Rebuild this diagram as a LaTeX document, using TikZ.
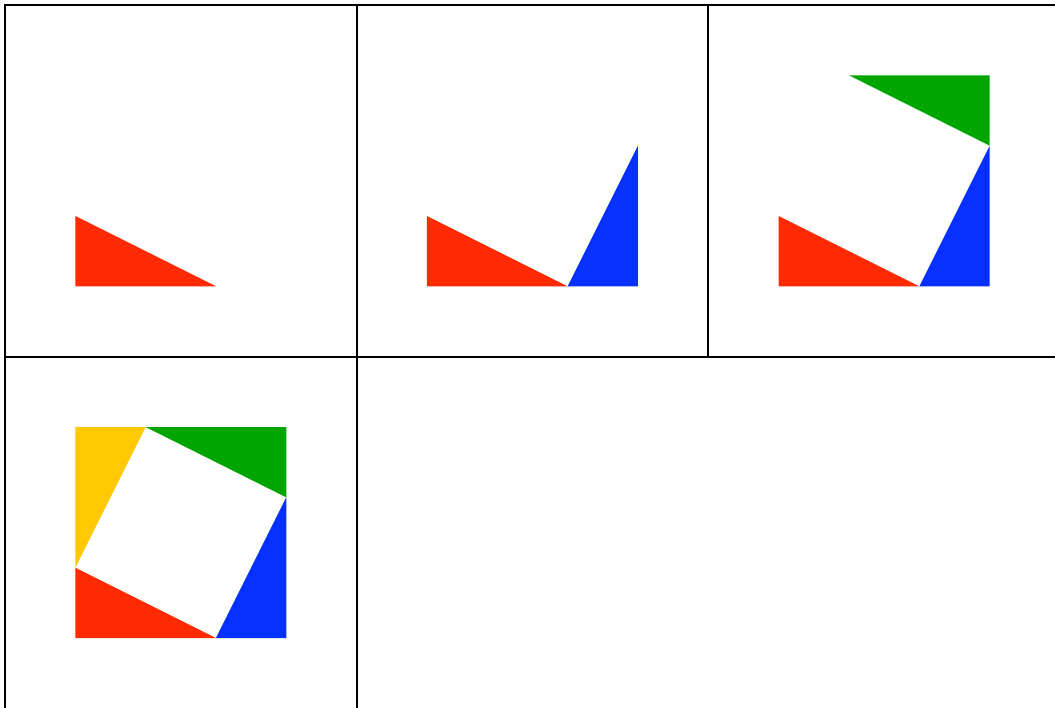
\documentclass[tikz,border=0pt]{standalone}
\usepackage{tikz}
\usetikzlibrary{calc,positioning}
\definecolor{tri-red}{HTML}{FF2A00}
\definecolor{tri-blue}{HTML}{0530FF}
\definecolor{tri-green}{HTML}{00A500}
\definecolor{tri-yellow}{HTML}{FFC800}

\tikzset{
  frame/.style={draw=black, line width=0.8pt}
}

\begin{document}
\begin{tikzpicture}
    \useasboundingbox (-0.071,0.071) rectangle (14.929,-9.982);
    % grid of panels
    \draw[frame] (0,-10.1) -- (0,0) -- (15,0);
    \draw[frame] (0,-5) -- (15,-5);
    \draw[frame] (5,0) -- (5,-10.1);
    \draw[frame] (10,0) -- (10,-5);
    % panel 1
    \begin{scope}[shift={(0,0)}]
        \fill[tri-red] (1,-3) -- (1,-4) -- (3,-4) -- cycle;
    \end{scope}
    % panel 2
    \begin{scope}[shift={(5,0)}]
        \fill[tri-red] (1,-3) -- (1,-4) -- (3,-4) -- cycle;
        \fill[tri-blue] (3,-4) -- (4,-4) -- (4,-2) -- cycle;
    \end{scope}
    % panel 3
    \begin{scope}[shift={(10,0)}]
        \fill[tri-red] (1,-3) -- (1,-4) -- (3,-4) -- cycle;
        \fill[tri-blue] (3,-4) -- (4,-4) -- (4,-2) -- cycle;
        \fill[tri-green] (4,-2) -- (4,-1) -- (2,-1) -- cycle;
    \end{scope}
    % panel 4
    \begin{scope}[shift={(0,-5)}]
        \fill[tri-red] (1,-3) -- (1,-4) -- (3,-4) -- cycle;
        \fill[tri-blue] (3,-4) -- (4,-4) -- (4,-2) -- cycle;
        \fill[tri-green] (4,-2) -- (4,-1) -- (2,-1) -- cycle;
        \fill[tri-yellow] (2,-1) -- (1,-1) -- (1,-3) -- cycle;
    \end{scope}
\end{tikzpicture}
\end{document}
